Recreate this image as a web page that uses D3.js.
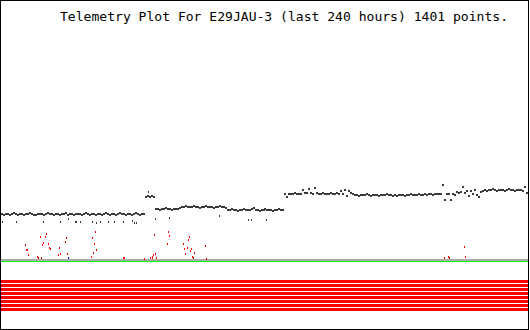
<!DOCTYPE html>
<html>
<head>
<meta charset="utf-8">
<script src="https://cdn.jsdelivr.net/npm/d3@7"></script>
<style>
  html, body { margin: 0; padding: 0; background: #fff; }
  svg { display: block; }
</style>
</head>
<body>
<script>
// Plot title
const titleText = "Telemetry Plot For E29JAU-3 (last 240 hours) 1401 points.";

// Main telemetry level, evenly spaced over the 240 hour window (arbitrary units, 0 = baseline)
const levelReadings = [
  // first stretch
  46,45,46,46,45,46,47,46,45,46,46,45,46,46,47,46,45,45,46,46,
  46,45,46,47,46,46,45,46,46,45,46,46,47,45,46,46,45,46,46,46,
  45,46,47,46,45,46,46,45,46,46,45,46,47,46,45,46,46,45,46,47,
  46,46,45,46,46,45,46,47,46,45,46,46,
  // short raised step
  63,64,63,64,63,
  51,51,50,51,51,52,51,51,50,51,51,51,52,
  53,53,54,53,53,53,54,53,53,52,53,53,54,53,53,53,52,53,53,54,53,53,52,
  50,50,51,50,50,49,50,50,51,50,50,50,51,52,50,50,49,50,50,51,50,50,50,49,50,50,51,50,50,
  // upper plateau
  66,63,66,66,66,67,66,66,66,
  70,
  67,67,71,67,66,72,67,
  66,66,67,66,66,66,67,66,66,67,66,
  69,66,70,64,69,67,66,
  65,65,64,65,65,65,66,65,64,65,65,65,64,65,65,65,66,65,65,64,65,64,65,65,65,64,65,65,66,65,65,65,66,65,65,66,65,66,66,65,66,66,66,
  66,75,60,66,
  66,60,66,65,68,67,68,73,67,69,64,69,66,70,65,63,
  68,69,70,69,70,70,71,70,69,70,70,70,69,70,71,70,70,69,70,70,70,69,73,67
];

// Isolated readings away from the main level
const dropoutHours  = [0.5, 6.8, 19.1, 26.9, 30.5, 33.7, 34.2, 36.0, 41.4, 43.3, 45.1, 48.7, 51.5, 55.6, 59.7, 60.6, 61.9, 67.4, 70.6, 77.0, 99.7, 112.9, 114.3, 121.1];
const dropoutValues = [38,  38,  38,   38,   41,   38,   38,   38,   38,   37,   38,   38,   38,   38,   39,   37,   37,   68,   41,   42,   44,   40,    40,    40];

// Secondary channel readings near the baseline
const auxHours  = [10.9, 11.4, 11.8, 12.3, 16.4, 16.9, 17.8, 18.2, 18.7, 19.1, 20.0, 20.5, 21.4, 21.9, 22.3,
                   26.0, 26.4, 26.9, 29.1, 29.6, 30.1, 41.0, 41.4, 41.9, 42.3, 42.8, 43.3, 55.6, 56.0,
                   65.6, 68.3, 68.8, 69.2, 69.7, 70.1, 70.6, 71.0, 76.1, 76.5, 77.0,
                   83.3, 83.8, 84.2, 85.2, 85.6, 86.1, 86.5, 87.0, 87.4, 87.9, 88.3, 93.4, 93.8,
                   202.7, 204.5, 204.9, 211.8, 212.2];
const auxValues = [15, 10, 10, 5, 3, 2, 23, 2, 15, 17, 23, 26, 16, 12, 11,
                   5, 12, 6, 18, 22, 6, 3, 22, 7, 16, 28, 10, 2, 2,
                   1, 2, 2, 3, 5, 25, 6, 2, 16, 28, 24,
                   16, 11, 6, 12, 20, 23, 9, 11, 3, 2, 7, 14, 1,
                   2, 3, 2, 13, 3];

// Flagged secondary reading
const flagHours  = [30.5];
const flagValues = [2];

// Limit bands drawn under the plot
const limitChannels = ["L1", "L2", "L3", "L4", "L5", "L6", "L7", "L8"];

const W = 530, H = 330;
const svg = d3.select("body").append("svg")
  .attr("width", W).attr("height", H)
  .attr("shape-rendering", "crispEdges");

const x = d3.scaleLinear().domain([0, 240]).range([1, 526]);
const y = d3.scaleLinear().domain([0, 260]).range([260, 0]);
const bands = d3.scaleBand().domain(limitChannels).range([280, 311]).paddingInner(0.25).paddingOuter(0);

// Frame
const frame = svg.append("g").attr("fill", "#000");
frame.append("rect").attr("x", 0).attr("y", 0).attr("width", 529).attr("height", 1);
frame.append("rect").attr("x", 0).attr("y", 329).attr("width", 529).attr("height", 1);
frame.append("rect").attr("x", 0).attr("y", 0).attr("width", 1).attr("height", 330);
frame.append("rect").attr("x", 528).attr("y", 0).attr("width", 1).attr("height", 330);

// Title
svg.append("text")
  .attr("x", 60).attr("y", 21)
  .attr("font-family", "'DejaVu Sans Mono', 'Liberation Mono', monospace")
  .attr("font-size", 12)
  .attr("textLength", 448)
  .attr("lengthAdjust", "spacingAndGlyphs")
  .attr("fill", "#000")
  .text(titleText);

// Baseline and reference line
svg.append("rect").attr("x", 1).attr("y", y(0) - 1).attr("width", 527).attr("height", 2).attr("fill", "#aaaaaa");
svg.append("rect").attr("x", 1).attr("y", y(0) + 1).attr("width", 527).attr("height", 1).attr("fill", "#00ff00");

// Limit bands
svg.append("g").selectAll("rect").data(limitChannels).join("rect")
  .attr("x", 1).attr("width", 527)
  .attr("y", d => bands(d)).attr("height", bands.bandwidth())
  .attr("fill", "#ff0000");

// Main level readings
const n = levelReadings.length;
svg.append("g").attr("fill", "#3a3a3a").selectAll("rect").data(levelReadings).join("rect")
  .attr("x", (d, i) => Math.round(x(i * 240 / (n - 1))))
  .attr("y", d => Math.round(y(d)) - 1)
  .attr("width", 2).attr("height", 2);

// Isolated readings
svg.append("g").attr("fill", "#3a3a3a").selectAll("rect").data(dropoutHours).join("rect")
  .attr("x", d => Math.round(x(d)))
  .attr("y", (d, i) => Math.round(y(dropoutValues[i])) - 1)
  .attr("width", 1).attr("height", 2);

// Secondary channel
svg.append("g").attr("fill", "#ff0000").selectAll("rect").data(auxHours).join("rect")
  .attr("x", d => Math.round(x(d)))
  .attr("y", (d, i) => Math.round(y(auxValues[i])) - 1)
  .attr("width", 1).attr("height", 2);

svg.append("g").attr("fill", "#0000ff").selectAll("rect").data(flagHours).join("rect")
  .attr("x", d => Math.round(x(d)))
  .attr("y", (d, i) => Math.round(y(flagValues[i])) - 1)
  .attr("width", 1).attr("height", 2);
</script>
</body>
</html>
